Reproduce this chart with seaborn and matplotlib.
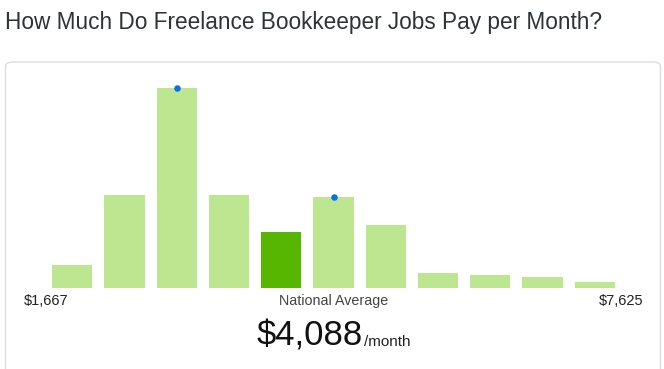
import numpy as np
import pandas as pd
import matplotlib.pyplot as plt
import seaborn as sns
from matplotlib.patches import FancyBboxPatch

# bar heights (relative units)
bins = list(range(11))
counts = [23, 93, 200, 93, 56, 91, 63, 15, 13, 11, 6]
highlight_bin = 4
dot_bins = [2, 5]
low_label = "$1,667"
high_label = "$7,625"
avg_label = "$4,088"

LIGHT = "#bce68f"
DARK = "#56b600"
BLUE = "#0b6fe8"

W, H = 664, 369
sns.set_theme(style="white")
plt.rcParams['font.family'] = ['Liberation Sans', 'DejaVu Sans']

fig = plt.figure(figsize=(W / 100, H / 100), dpi=100)

# card behind the chart
card = FancyBboxPatch((5.5 / W, -0.05), 655 / W, (369 - 62) / H + 0.05,
                      boxstyle="round,pad=0,rounding_size=0.012",
                      transform=fig.transFigure, facecolor="white",
                      edgecolor="#dcdcdc", linewidth=1.0, zorder=-5)
fig.patches.append(card)

fig.text(5 / W, 1 - 23 / H, "How Much Do Freelance Bookkeeper Jobs Pay per Month?",
         fontsize=16.3, color="#2e3436", va="center", ha="left")

# axes placed so that the categories line up with the bars
left, right = 46, 621
bottom, top = 288, 88
ax = fig.add_axes([left / W, 1 - bottom / H, (right - left) / W, (bottom - top) / H])
ax.patch.set_alpha(0)

df = pd.DataFrame({"bin": bins, "count": counts})
df["kind"] = ["avg" if b == highlight_bin else "other" for b in bins]
sns.barplot(data=df, x="bin", y="count", hue="kind",
            palette={"avg": DARK, "other": LIGHT}, width=0.77,
            dodge=False, legend=False, saturation=1, ax=ax)
for p in ax.patches:
    p.set_edgecolor("none")

dots = df[df["bin"].isin(dot_bins)]
ax.scatter(dots["bin"], dots["count"], s=22, color=BLUE, zorder=5, clip_on=False,
           linewidths=0)

ax.set_xlim(-0.5, len(bins) - 0.5)
ax.set_ylim(0, max(counts))
ax.axis("off")

fig.text(24 / W, 1 - 301 / H, low_label, fontsize=10.5, color="#222222", va="center", ha="left")
fig.text(643 / W, 1 - 301 / H, high_label, fontsize=10.5, color="#222222", va="center", ha="right")
fig.text(334 / W, 1 - 301 / H, "National Average", fontsize=10.3, color="#444444",
         va="center", ha="center")
t = fig.text(257 / W, 1 - 346 / H, avg_label, fontsize=25, color="#111111",
             va="baseline", ha="left")
fig.canvas.draw()
bb = t.get_window_extent()
fig.text(bb.x1 / W + 1 / W, 1 - 346 / H, "/month", fontsize=11, color="#222222",
         va="baseline", ha="left")

fig.savefig("out.png", dpi=100)
